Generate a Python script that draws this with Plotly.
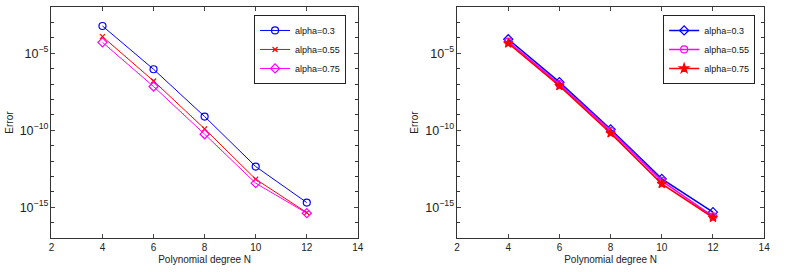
import plotly.graph_objects as go

N = [4, 6, 8, 10, 12]
left_labels = ["alpha=0.3", "alpha=0.55", "alpha=0.75"]
left_log = [
    [-3.23, -6.04, -9.11, -12.36, -14.70],
    [-3.92, -6.80, -9.91, -13.18, -15.35],
    [-4.29, -7.16, -10.26, -13.44, -15.39],
]
right_labels = ["alpha=0.3", "alpha=0.55", "alpha=0.75"]
right_log = [
    [-4.09, -6.88, -9.94, -13.16, -15.32],
    [-4.24, -7.01, -10.04, -13.29, -15.60],
    [-4.35, -7.12, -10.19, -13.48, -15.67],
]
x_ticks = [2, 4, 6, 8, 10, 12, 14]

left_styles = [
    dict(color="#0000ff", symbol="circle-open", size=7, width=1),
    dict(color="#ff0000", symbol="x-thin-open", size=5, width=1),
    dict(color="#ff00ff", symbol="diamond-open", size=7, width=1),
]
right_styles = [
    dict(color="#0000ff", symbol="diamond-open", size=7, width=1.6),
    dict(color="#ff00ff", symbol="circle-open", size=7, width=1.6),
    dict(color="#ff0000", symbol="star", size=7, width=1.6),
]

fig = go.Figure()
for lbl, vals, st in zip(left_labels, left_log, left_styles):
    fig.add_trace(go.Scatter(
        x=N, y=[10 ** v for v in vals], name=lbl, mode="lines+markers",
        xaxis="x", yaxis="y", legend="legend",
        line=dict(color=st["color"], width=st["width"]),
        marker=dict(symbol=st["symbol"], size=st["size"], color=st["color"],
                    line=dict(color=st["color"], width=1.2)),
    ))
for lbl, vals, st in zip(right_labels, right_log, right_styles):
    fig.add_trace(go.Scatter(
        x=N, y=[10 ** v for v in vals], name=lbl, mode="lines+markers",
        xaxis="x2", yaxis="y2", legend="legend2",
        line=dict(color=st["color"], width=st["width"]),
        marker=dict(symbol=st["symbol"], size=st["size"], color=st["color"],
                    line=dict(color=st["color"], width=1.2)),
    ))

font = dict(family="Liberation Sans, Arial, sans-serif", size=10, color="#222222")

def xax(domain, anchor):
    return dict(domain=domain, anchor=anchor, range=[2, 14], tickvals=x_ticks,
                ticks="inside", ticklen=4, showline=True, linecolor="#333333",
                linewidth=1, mirror="ticks", showgrid=False, zeroline=False,
                title=dict(text="Polynomial degree N", standoff=3, font=font),
                tickfont=font)

def yax(domain, anchor):
    return dict(domain=domain, anchor=anchor, type="log", range=[-17, -2],
                tick0=0, dtick=5, exponentformat="power", ticks="inside", ticklen=4,
                minor=dict(dtick=1, ticks="inside", ticklen=3, tickcolor="#333333"),
                showline=True, linecolor="#333333", linewidth=1, mirror="ticks",
                showgrid=False, zeroline=False,
                title=dict(text="Error", standoff=4, font=font), tickfont=font)

leg_common = dict(bgcolor="white", bordercolor="#222222", borderwidth=1,
                  font=dict(family="Liberation Sans, Arial, sans-serif", size=9, color="#111111"),
                  xanchor="right", yanchor="top", tracegroupgap=0, itemwidth=30)

fig.update_layout(
    width=786, height=272, margin=dict(l=0, r=0, t=0, b=0),
    paper_bgcolor="white", plot_bgcolor="white", font=font,
    xaxis=xax([0.0623, 0.4567], "y"),
    yaxis=yax([0.125, 0.974], "x"),
    xaxis2=xax([0.5844, 0.9796], "y2"),
    yaxis2=yax([0.125, 0.974], "x2"),
    legend=dict(x=0.4415, y=0.945, **leg_common),
    legend2=dict(x=0.968, y=0.945, **leg_common),
)

fig.write_html("out.html", config={"displayModeBar": False},
               post_script="document.body.style.margin='0';document.body.style.overflow='hidden';")
